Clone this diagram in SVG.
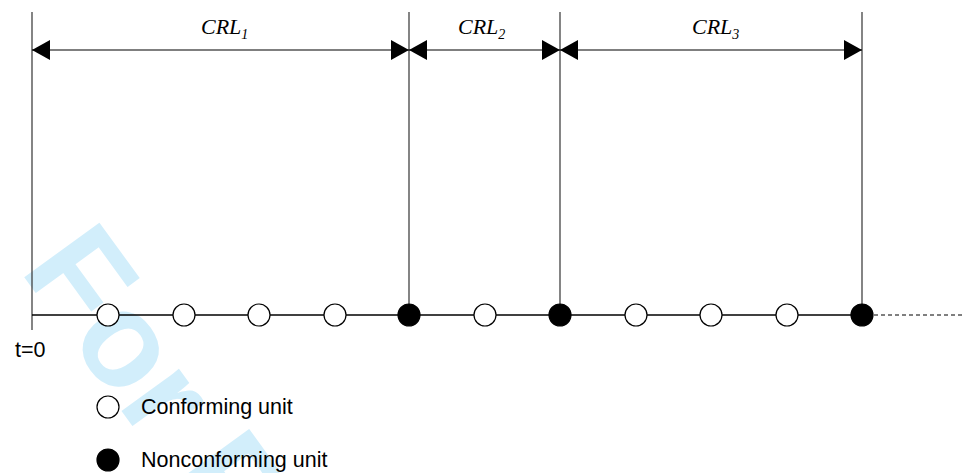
<svg xmlns="http://www.w3.org/2000/svg" width="965" height="473" viewBox="0 0 965 473">
<style>
.wm{font-family:"Liberation Sans",Arial,sans-serif;font-weight:bold;font-size:135px;fill:#d2eefb}
.crl{font-family:"Liberation Serif","Times New Roman",serif;font-style:italic;font-size:22px;fill:#000}
.sub{font-size:14px}
.lbl{font-family:"Liberation Sans",Arial,sans-serif;font-size:21.5px;fill:#000}
.vl{stroke:#333;stroke-width:1.2;fill:none}
.ax{stroke:#000;stroke-width:1.5;fill:none}
.dim{stroke:#000;stroke-width:1.2;fill:none;marker-start:url(#ah);marker-end:url(#ah)}
.open{fill:#fff;stroke:#000;stroke-width:1.2}
.full{fill:#000;stroke:#000;stroke-width:1.2}
</style>
<defs>
<marker id="ah" viewBox="0 0 18 20" refX="18" refY="10" markerWidth="18" markerHeight="20" markerUnits="userSpaceOnUse" orient="auto-start-reverse">
<path d="M0,0 L18,10 L0,20 Z" fill="#000"/>
</marker>
</defs>
<rect width="965" height="473" fill="#fff"/>
<text class="wm" transform="translate(19,270) rotate(54)">For Peer Review</text>
<g id="connectors">
<line class="vl" x1="32" y1="12" x2="32" y2="330"/>
<line class="vl" x1="409" y1="12" x2="409" y2="315"/>
<line class="vl" x1="560" y1="12" x2="560" y2="315"/>
<line class="vl" x1="862" y1="12" x2="862" y2="315"/>
<line class="ax" x1="32" y1="315" x2="870" y2="315"/>
<line x1="874" y1="315" x2="965" y2="315" stroke="#000" stroke-width="1" stroke-dasharray="4 3"/>
<line class="dim" x1="32" y1="50" x2="409" y2="50"/>
<line class="dim" x1="409" y1="50" x2="560" y2="50"/>
<line class="dim" x1="560" y1="50" x2="862" y2="50"/>
</g>
<g id="labels">
<text class="crl" x="201" y="34">CRL<tspan class="sub" dy="5">1</tspan></text>
<text class="crl" x="458" y="34">CRL<tspan class="sub" dy="5">2</tspan></text>
<text class="crl" x="692" y="34">CRL<tspan class="sub" dy="5">3</tspan></text>
<text class="lbl" x="15" y="357">t=0</text>
</g>
<g id="unit1"><circle class="open" cx="108" cy="315" r="11"/></g>
<g id="unit2"><circle class="open" cx="184" cy="315" r="11"/></g>
<g id="unit3"><circle class="open" cx="259" cy="315" r="11"/></g>
<g id="unit4"><circle class="open" cx="335" cy="315" r="11"/></g>
<g id="unit5"><circle class="full" cx="409" cy="315" r="11"/></g>
<g id="unit6"><circle class="open" cx="485" cy="315" r="11"/></g>
<g id="unit7"><circle class="full" cx="560" cy="315" r="11"/></g>
<g id="unit8"><circle class="open" cx="636" cy="315" r="11"/></g>
<g id="unit9"><circle class="open" cx="711" cy="315" r="11"/></g>
<g id="unit10"><circle class="open" cx="787" cy="315" r="11"/></g>
<g id="unit11"><circle class="full" cx="862" cy="315" r="11"/></g>
<g id="legend-conforming">
<circle class="open" cx="108" cy="407" r="11"/>
<text class="lbl" x="141" y="414">Conforming unit</text>
</g>
<g id="legend-nonconforming">
<circle class="full" cx="108" cy="460" r="11"/>
<text class="lbl" x="141" y="467">Nonconforming unit</text>
</g>
</svg>
